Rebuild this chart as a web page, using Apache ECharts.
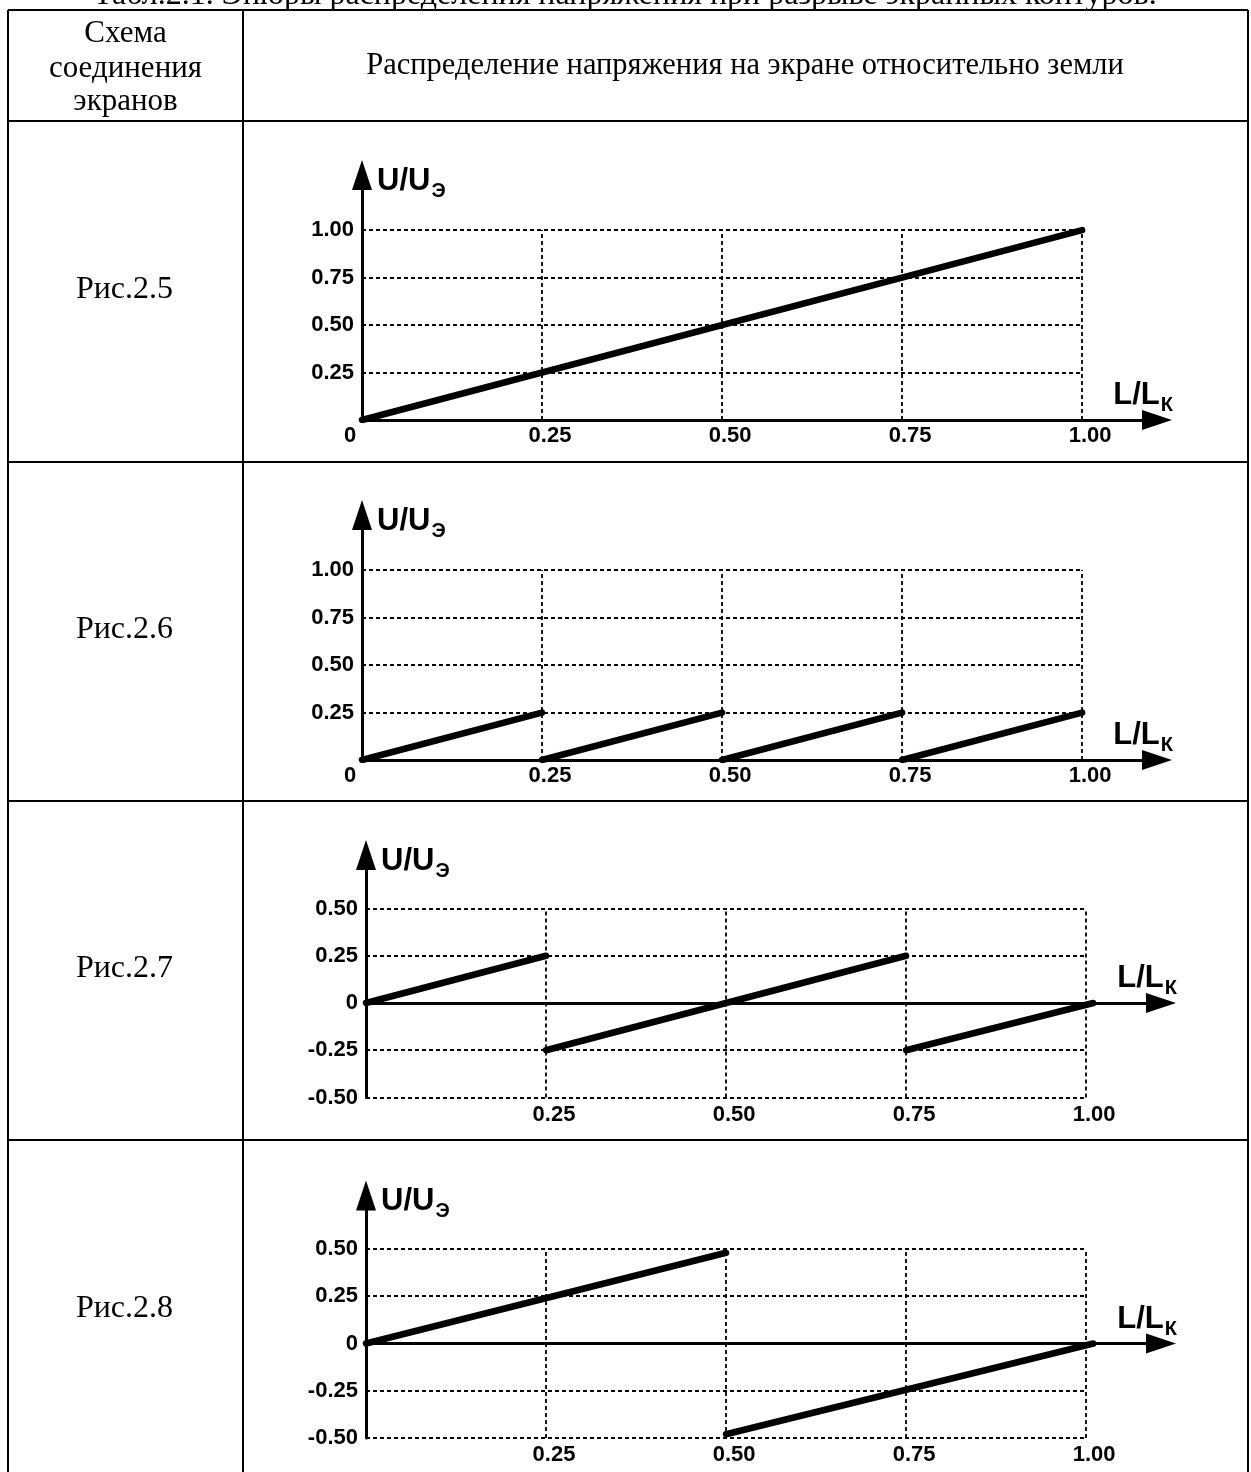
<!DOCTYPE html>
<html><head><meta charset="utf-8">
<script src="https://cdn.jsdelivr.net/npm/echarts@6/dist/echarts.min.js"></script>
<style>html,body{margin:0;padding:0;background:#fff}#c{width:1251px;height:1472px}</style>
</head><body><div id="c"></div><script>
// ---- data ----
const figureLabels = ['Рис.2.5', 'Рис.2.6', 'Рис.2.7', 'Рис.2.8'];
const headerLeft = ['Схема', 'соединения', 'экранов'];
const headerRight = 'Распределение напряжения на экране относительно земли';
const tableTitle = 'Табл.2.1. Эпюры распределения напряжения при разрыве экранных контуров.';
const xTicks = [0.25, 0.5, 0.75, 1.0];
const yTicksPos = [0.25, 0.5, 0.75, 1.0];
const yTicksSym = [-0.5, -0.25, 0, 0.25, 0.5];
const yGridSym = [-0.5, -0.25, 0.25, 0.5];
// each figure: list of straight segments [[x1,y1],[x2,y2]]
const fig25 = [[[0, 0], [1, 1]]];
const fig26 = [[[0, 0], [0.25, 0.25]], [[0.25, 0], [0.5, 0.25]], [[0.5, 0], [0.75, 0.25]], [[0.75, 0], [1, 0.25]]];
const fig27 = [[[0, 0], [0.25, 0.25]], [[0.25, -0.25], [0.75, 0.25]], [[0.75, -0.25], [1.01, 0]]];
const fig28 = [[[0, 0], [0.5, 0.48]], [[0.5, -0.48], [1.01, 0]]];
const figures = [fig25, fig26, fig27, fig28];

// ---- layout ----
const XMAX = 1.104;
const panels = [
  {left: 362, top: 175, height: 245, yMin: 0, yMax: 1.29, sym: false},
  {left: 362, top: 515, height: 245, yMin: 0, yMax: 1.29, sym: false},
  {left: 366, top: 855, height: 242.5, yMin: -0.5, yMax: 0.783, sym: true},
  {left: 366, top: 1195.5, height: 242.5, yMin: -0.5, yMax: 0.783, sym: true}
];
const rowLines = [10, 121, 462, 801, 1140];
const colLines = [8, 243, 1248];

const SANS = '"Liberation Sans", Arial, sans-serif';
const SERIF = '"Liberation Serif", "Times New Roman", serif';
const labelStyle = {color: '#000', fontFamily: SANS, fontWeight: 'bold', fontSize: 22};
const arrowLine = {onZero: true, lineStyle: {color: '#000', width: 3}, symbol: ['none', 'triangle'], symbolSize: [20, 30]};
const nameRich = {
  a: {fontFamily: SANS, fontWeight: 'bold', fontSize: 31, color: '#000', lineHeight: 31},
  b: {fontFamily: SANS, fontWeight: 'bold', fontSize: 20, color: '#000', lineHeight: 20, padding: [20, 0, 0, 1]}
};

const grid = [], xAxis = [], yAxis = [], series = [];
panels.forEach((p, i) => {
  grid.push({left: p.left, top: p.top, width: 795, height: p.height});
  xAxis.push({
    gridIndex: i, type: 'value', min: 0, max: XMAX,
    axisLine: arrowLine, axisTick: {show: false}, splitLine: {show: false},
    axisLabel: p.sym ? {show: false} : Object.assign({}, labelStyle, {
      customValues: [0].concat(xTicks), margin: 5, padding: [0, 0, 0, 16],
      formatter: v => v === 0 ? '{z|0}' : v.toFixed(2),
      rich: {z: Object.assign({}, labelStyle, {padding: [0, 40, 0, 0]})}
    }),
    name: '{a|L/L}{b|К}', nameLocation: 'end', nameGap: 16,
    nameTextStyle: {align: 'right', verticalAlign: 'bottom', padding: [0, 0, 9, 0], rich: nameRich}
  });
  const mainX = xAxis.length - 1;
  if (p.sym) {
    xAxis.push({
      gridIndex: i, type: 'value', min: 0, max: XMAX, position: 'bottom',
      axisLine: {show: false, onZero: false}, axisTick: {show: false}, splitLine: {show: false},
      axisLabel: Object.assign({}, labelStyle, {customValues: xTicks, margin: 6, padding: [0, 0, 0, 16], formatter: v => v.toFixed(2)})
    });
  }
  yAxis.push({
    gridIndex: i, type: 'value', min: p.yMin, max: p.yMax,
    axisLine: arrowLine, axisTick: {show: false}, splitLine: {show: false},
    axisLabel: Object.assign({}, labelStyle, {
      customValues: p.sym ? yTicksSym : yTicksPos, margin: 8,
      formatter: v => v === 0 ? '0' : v.toFixed(2)
    }),
    name: '{a|U/U}{b|Э}', nameLocation: 'end', nameGap: -6,
    nameTextStyle: {align: 'left', verticalAlign: 'middle', padding: [0, 0, 0, 15], rich: nameRich}
  });
  const yIdx = yAxis.length - 1;
  const hLines = p.sym ? yGridSym : yTicksPos;
  const vFrom = p.sym ? -0.5 : 0, vTo = p.sym ? 0.5 : 1.0;
  const mlData = [];
  hLines.forEach(y => mlData.push([{coord: [0, y]}, {coord: [1, y]}]));
  xTicks.forEach(x => mlData.push([{coord: [x, vFrom]}, {coord: [x, vTo]}]));
  series.push({
    type: 'line', xAxisIndex: mainX, yAxisIndex: yIdx, data: [], z: 1, silent: true,
    markLine: {silent: true, symbol: ['none', 'none'], label: {show: false}, animation: false,
      lineStyle: {type: [4, 3], width: 1.8, color: '#000'}, emphasis: {disabled: true}, data: mlData}
  });
  figures[i].forEach(seg => {
    series.push({
      type: 'line', xAxisIndex: mainX, yAxisIndex: yIdx, data: seg, z: 3, silent: true,
      symbol: 'none', lineStyle: {color: '#000', width: 6.5, cap: 'round'}
    });
  });
});

// table graphics
const graphic = [];
rowLines.forEach(y => graphic.push({type: 'line', shape: {x1: 8, y1: y, x2: 1248, y2: y}, style: {stroke: '#000', lineWidth: 2}, silent: true}));
colLines.forEach(x => graphic.push({type: 'line', shape: {x1: x, y1: 10, x2: x, y2: 1472}, style: {stroke: '#000', lineWidth: 2}, silent: true}));
graphic.push({type: 'text', x: 625, y: -4, style: {text: tableTitle, fontFamily: SERIF, fontSize: 32, fill: '#000', align: 'center', verticalAlign: 'middle'}, silent: true});
const hlY = [34, 68.5, 102];
headerLeft.forEach((t, k) => graphic.push({type: 'text', x: 125.5, y: hlY[k], style: {text: t, fontFamily: SERIF, fontSize: 31, fill: '#000', align: 'center', verticalAlign: 'middle'}, silent: true}));
graphic.push({type: 'text', x: 745, y: 66, style: {text: headerRight, fontFamily: SERIF, fontSize: 30.5, fill: '#000', align: 'center', verticalAlign: 'middle'}, silent: true});
const figY = [290, 630, 969, 1309];
figureLabels.forEach((t, k) => graphic.push({type: 'text', x: 124.5, y: figY[k], style: {text: t, fontFamily: SERIF, fontSize: 32, fill: '#000', align: 'center', verticalAlign: 'middle'}, silent: true}));

const chart = echarts.init(document.getElementById('c'));
chart.setOption({animation: false, backgroundColor: '#fff', grid, xAxis, yAxis, series, graphic});
</script></body></html>
